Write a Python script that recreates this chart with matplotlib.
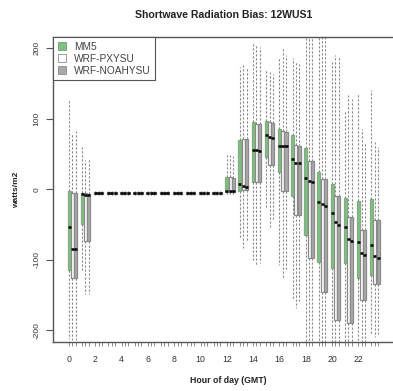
import matplotlib
matplotlib.use("Agg")
import matplotlib.pyplot as plt
from matplotlib.patches import Patch
import numpy as np

plt.rcParams['font.family'] = ['Liberation Sans', 'DejaVu Sans']

hours = list(range(24))
series = ["MM5", "WRF-PXYSU", "WRF-NOAHYSU"]
tick_labels = [str(h) for h in range(0, 24, 2)]

# per hour: [whisker_low, q1, median, q3, whisker_high]
night = [-8, -6, -5, -4, -2]
mm5 = [
    [-212, -114, -54, -2, 127],
    [-117, -49, -6, -5, 60],
] + [night] * 10 + [
    [-10, -4, -3, 17, 48],
    [-70, -3, 8, 70, 174],
    [-100, 11, 56, 95, 207],
    [-27, 46, 77, 97, 169],
    [-107, 25, 61, 85, 186],
    [-155, -10, 43, 77, 186],
    [-225, -65, 16, 58, 214],
    [-225, -103, -18, 25, 225],
    [-225, -112, -34, 7, 183],
    [-225, -105, -54, -13, 111],
    [-225, -126, -75, -16, 136],
    [-207, -121, -79, -14, 141],
]
px = [
    [-214, -126, -84, -5, 78],
    [-148, -74, -8, -5, 42],
] + [night] * 10 + [
    [-9, -4, -3, 18, 49],
    [-83, -1, 4, 72, 176],
    [-107, 10, 56, 92, 204],
    [-53, 34, 74, 95, 167],
    [-126, -3, 61, 82, 202],
    [-169, -36, 38, 63, 181],
    [-225, -98, 12, 40, 225],
    [-225, -145, -21, 15, 225],
    [-225, -185, -47, -10, 190],
    [-225, -190, -71, -39, 134],
    [-225, -157, -90, -58, 86],
    [-210, -135, -95, -44, 67],
]
noah = [
    [-214, -126, -84, -5, 83],
    [-148, -74, -8, -6, 44],
] + [night] * 10 + [
    [-9, -4, -3, 16, 47],
    [-75, -1, 3, 71, 172],
    [-105, 10, 55, 92, 202],
    [-45, 34, 73, 94, 164],
    [-115, -3, 61, 81, 190],
    [-160, -36, 37, 62, 178],
    [-225, -98, 10, 40, 225],
    [-225, -145, -24, 15, 225],
    [-225, -185, -50, -10, 188],
    [-225, -190, -74, -39, 128],
    [-225, -157, -93, -58, 65],
    [-205, -135, -98, -44, 60],
]

colors = ["#7cc47c", "#ffffff", "#a9a9a9"]
edges = ["#86a886", "#8a8a8a", "#8a8a8a"]
offsets = [0.0, 0.25, 0.5]

fig = plt.figure(figsize=(3.93, 3.91), dpi=100)
ax = fig.add_axes([0.1349, 0.1253, 0.894, 0.780])

for data, col, ec, off in zip([mm5, px, noah], colors, edges, offsets):
    stats = [dict(whislo=d[0], q1=d[1], med=d[2], q3=d[3], whishi=d[4], fliers=[])
             for d in data]
    pos = [h + off for h in hours]
    ax.bxp(stats, positions=pos, widths=0.23, patch_artist=True,
           showcaps=False, showfliers=False, manage_ticks=False,
           boxprops=dict(facecolor=col, edgecolor=ec, linewidth=0.9),
           whiskerprops=dict(color="#8a8a8a", linewidth=0.8, linestyle=(0, (2.0, 1.6))),
           medianprops=dict(color="black", linewidth=1.8, solid_capstyle="butt"))

ax.set_xlim(-1.217, 25.5)
ax.set_ylim(-216.6, 216)

allpos = [h + o for h in hours for o in offsets]
ax.set_xticks(allpos)
ax.set_xticklabels([str(h) if (o == 0.0 and h % 2 == 0) else "" for h in hours for o in offsets])
ax.tick_params(axis="x", length=3, width=0.6, color="#777", labelsize=6.3,
               labelcolor="#333", pad=6)
ax.set_yticks([-200, -100, 0, 100, 200])
ax.set_yticklabels(["-200", "-100", "0", "100", "200"], rotation=90, va="center")
ax.tick_params(axis="y", length=5, width=0.8, color="#555", labelsize=6.0,
               labelcolor="#333", pad=4)

for s in ax.spines.values():
    s.set_color("#555")
    s.set_linewidth(1.0)

ax.set_xlabel("Hour of day (GMT)", fontsize=6.3, fontweight="bold", color="#222", labelpad=9)
ax.set_ylabel("watts/m2", fontsize=6.0, fontweight="bold", color="#222", labelpad=10)
fig.text(0.57, 0.962, "Shortwave Radiation Bias: 12WUS1", ha="center", va="center",
         fontsize=7.6, fontweight="bold", color="#222")

handles = [Patch(facecolor=c, edgecolor="#8c8c8c", linewidth=0.6, label=l)
           for c, l in zip(colors, series)]
leg = ax.legend(handles=handles, loc="upper left", bbox_to_anchor=(0, 1),
                borderaxespad=0, fancybox=False, fontsize=7.3, handlelength=0.8,
                handleheight=0.8, handletextpad=0.8, labelspacing=0.2,
                borderpad=0.45, framealpha=1)
leg.get_frame().set_edgecolor("#555")
leg.get_frame().set_linewidth(0.8)
for t in leg.get_texts():
    t.set_color("#444")

fig.savefig("out.png", dpi=100)
